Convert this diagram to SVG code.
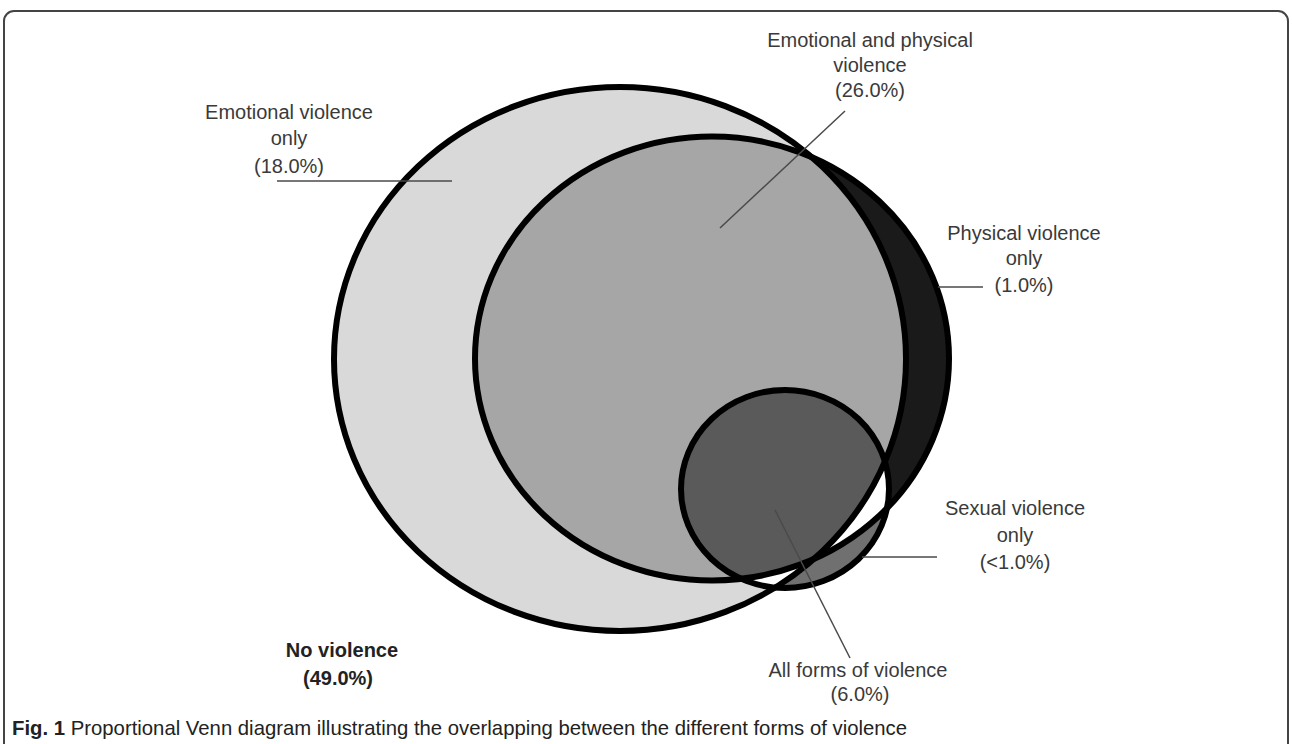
<svg xmlns="http://www.w3.org/2000/svg" width="1292" height="744" viewBox="0 0 1292 744">
<style>
.lbl{font-family:"Liberation Sans",Arial,sans-serif;font-size:20px;fill:#3a3a3a;text-anchor:middle}
.b{font-weight:bold;fill:#222}
.lead{stroke:#4a4a4a;stroke-width:1.5;fill:none}
.ring{fill:none;stroke:#000;stroke-width:6}
.cap{font-family:"Liberation Sans",Arial,sans-serif;font-size:21px;fill:#222}
</style>
<defs>
<ellipse id="cE" cx="620" cy="359" rx="286" ry="272"/>
<ellipse id="cP" cx="712" cy="358.5" rx="237" ry="222"/>
<ellipse id="cS" cx="785" cy="489" rx="104" ry="99"/>
<clipPath id="clipE"><use href="#cE"/></clipPath>
<clipPath id="clipP"><use href="#cP"/></clipPath>
<mask id="mSonly" maskUnits="userSpaceOnUse" x="0" y="0" width="1292" height="744"><use href="#cS" fill="#fff"/><use href="#cE" fill="#000"/><use href="#cP" fill="#000"/></mask>
</defs>
<rect x="4" y="11" width="1284" height="780" rx="10" fill="#fff" stroke="#444" stroke-width="2"/>
<g id="emotional"><use href="#cE" fill="#d9d9d9"/></g>
<g id="physical"><use href="#cP" fill="#1a1a1a"/><g clip-path="url(#clipP)"><use href="#cE" fill="#a6a6a6"/></g></g>
<g id="sexual"><use href="#cS" fill="#fff"/><g clip-path="url(#clipE)"><g clip-path="url(#clipP)"><use href="#cS" fill="#5a5a5a"/></g></g><use href="#cS" fill="#707070" mask="url(#mSonly)"/></g>
<g id="outlines"><use href="#cE" class="ring"/><use href="#cP" class="ring"/><use href="#cS" class="ring"/></g>
<g id="connectors">
<line class="lead" x1="277" y1="181" x2="452" y2="181"/>
<line class="lead" x1="845" y1="111" x2="720" y2="228"/>
<line class="lead" x1="938" y1="287" x2="983" y2="287"/>
<line class="lead" x1="862" y1="557" x2="937" y2="557"/>
<line class="lead" x1="775" y1="510" x2="850" y2="658"/>
</g>
<g id="label-emotional"><text class="lbl" x="289" y="119">Emotional violence</text><text class="lbl" x="289" y="145">only</text><text class="lbl" x="289" y="173">(18.0%)</text></g>
<g id="label-emo-phys"><text class="lbl" x="870" y="47">Emotional and physical</text><text class="lbl" x="870" y="72">violence</text><text class="lbl" x="870" y="97">(26.0%)</text></g>
<g id="label-physical"><text class="lbl" x="1024" y="240">Physical violence</text><text class="lbl" x="1024" y="265">only</text><text class="lbl" x="1024" y="292">(1.0%)</text></g>
<g id="label-sexual"><text class="lbl" x="1015" y="515">Sexual violence</text><text class="lbl" x="1015" y="542">only</text><text class="lbl" x="1015" y="569">(&lt;1.0%)</text></g>
<g id="label-all"><text class="lbl" x="858" y="677">All forms of violence</text><text class="lbl" x="860" y="701">(6.0%)</text></g>
<g id="label-none"><text class="lbl b" x="342" y="657">No violence</text><text class="lbl b" x="338" y="685">(49.0%)</text></g>
<text class="cap" x="12" y="735" textLength="895" lengthAdjust="spacingAndGlyphs"><tspan font-weight="bold">Fig. 1</tspan> Proportional Venn diagram illustrating the overlapping between the different forms of violence</text>
</svg>
